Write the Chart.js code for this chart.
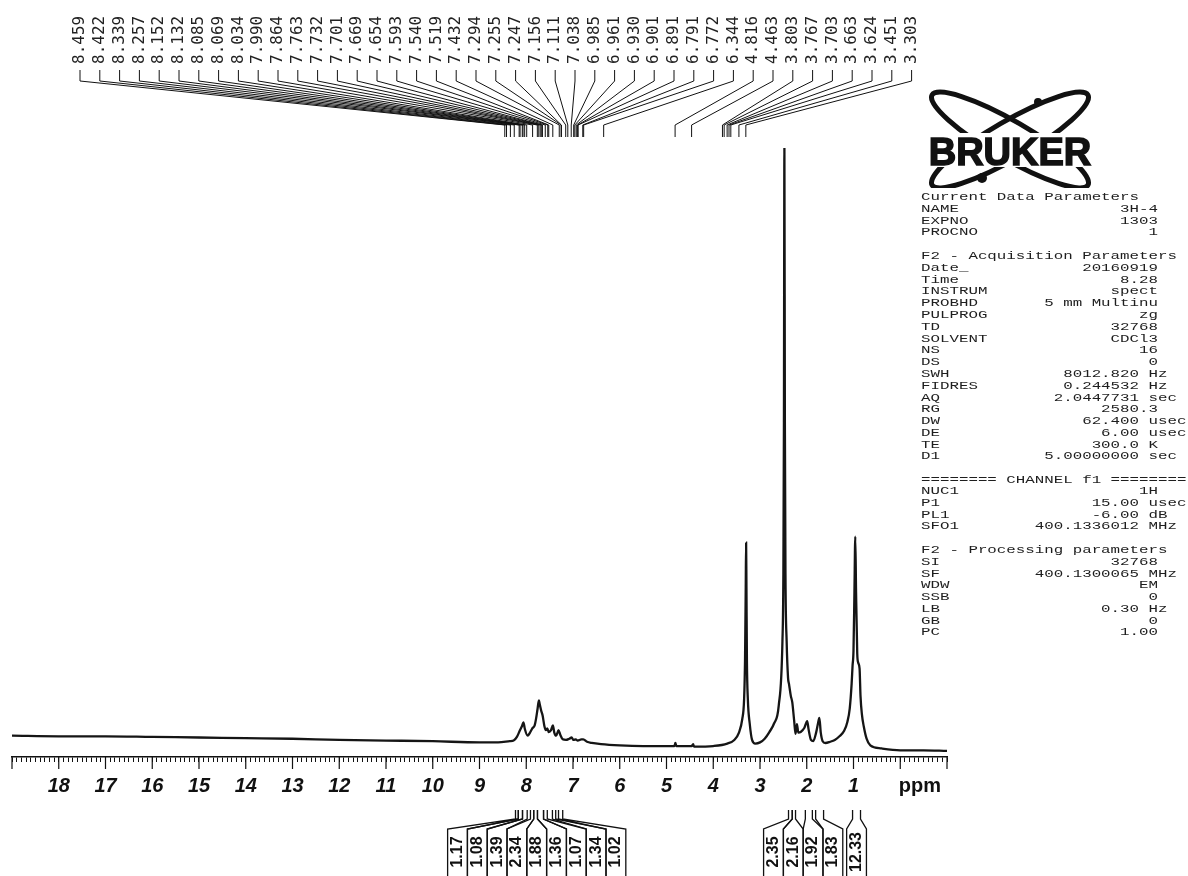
<!DOCTYPE html>
<html>
<head>
<meta charset="utf-8">
<script src="https://cdn.jsdelivr.net/npm/chart.js@4.4.0/dist/chart.umd.min.js"></script>
<style>
  html, body { margin: 0; padding: 0; background: #fff; }
  #wrap { position: relative; width: 1188px; height: 876px; overflow: hidden; }
  #chart { position: absolute; left: 0; top: 0; }
  #params {
    position: absolute; left: 921px; top: 192px; margin: 0;
    font: 15.8px/16.8px "Liberation Mono", "DejaVu Sans Mono", monospace;
    color: #1e1e1e; white-space: pre;
    transform: scaleY(0.7); transform-origin: 0 0;
  }
  #logo { position: absolute; left: 915px; top: 78px; }
</style>
</head>
<body>
<div id="wrap">
  <canvas id="chart" width="1188" height="876"></canvas>
  <svg id="logo" width="190" height="110" viewBox="0 0 190 110">
    <ellipse cx="95" cy="62" rx="90" ry="19" transform="rotate(30 95 62)" fill="none" stroke="#111" stroke-width="5"/>
    <ellipse cx="95" cy="62" rx="90" ry="19" transform="rotate(-30 95 62)" fill="none" stroke="#111" stroke-width="5"/>
    <rect x="6" y="55" width="178" height="34" fill="#fff"/>
    <text x="95" y="87" text-anchor="middle" font-family="Liberation Sans, Arial" font-weight="bold" font-size="38" fill="#111" stroke="#111" stroke-width="1.5">BRUKER</text>
    <circle cx="67" cy="100" r="5" fill="#111"/>
    <circle cx="123" cy="24" r="4" fill="#111"/>
  </svg>
  <pre id="params"></pre>
</div>
<script>
// spectrum trace: chemical shift (ppm) and height (% of tallest peak)
const specPpm = [19.0, 18.0, 17.0, 16.0, 15.0, 14.0, 13.0, 12.0, 11.0, 10.0, 9.0, 8.6,
  8.35, 8.27, 8.20, 8.14, 8.09, 8.06, 8.03, 7.97, 7.92, 7.87, 7.82, 7.79, 7.76, 7.73, 7.71,
  7.68, 7.65, 7.61, 7.58, 7.55, 7.52, 7.47, 7.43, 7.40, 7.36, 7.31, 7.27, 7.22, 7.15, 7.08,
  7.03, 6.99, 6.94, 6.90, 6.82, 6.78, 6.70, 6.60, 6.40, 6.00, 5.50, 5.00, 4.83, 4.81, 4.79,
  4.46, 4.43, 4.41, 4.00, 3.70, 3.55, 3.45, 3.38, 3.34, 3.32, 3.305, 3.297, 3.29, 3.28, 3.26,
  3.22, 3.17, 3.10, 3.00, 2.90, 2.80, 2.70, 2.60, 2.52, 2.50, 2.488, 2.478, 2.468, 2.455,
  2.43, 2.40, 2.38, 2.34, 2.31, 2.27, 2.24, 2.21, 2.18, 2.13, 2.05, 1.99, 1.96, 1.91, 1.86,
  1.80, 1.76, 1.73, 1.70, 1.66, 1.60, 1.50, 1.40, 1.30, 1.20, 1.13, 1.08, 1.04, 1.02, 1.00,
  0.98, 0.962, 0.945, 0.92, 0.90, 0.87, 0.85, 0.82, 0.78, 0.72, 0.64, 0.40, 0.00, -0.50, -1.00];
const specInt = [3.5, 3.4, 3.4, 3.3, 3.2, 3.1, 3.0, 2.8, 2.7, 2.6, 2.4, 2.4,
  2.6, 2.7, 3.3, 4.3, 5.1, 5.7, 4.6, 3.5, 4.0, 4.7, 5.2, 6.3, 7.8, 9.3, 8.6,
  7.6, 6.8, 5.0, 4.4, 4.7, 4.1, 4.4, 5.2, 4.0, 3.5, 4.4, 3.6, 2.9, 2.8, 3.0,
  3.2, 2.8, 2.9, 2.7, 2.9, 2.9, 2.5, 2.3, 2.1, 1.9, 1.8, 1.8, 1.8, 2.3, 1.8,
  1.8, 2.1, 1.7, 1.8, 2.2, 2.8, 4.0, 6.2, 9.5, 16, 28, 35.2, 28, 16, 9.5,
  5.5, 2.8, 2.2, 2.4, 3.0, 4.1, 5.5, 8.4, 19, 30, 55, 100, 55, 30,
  19, 13, 12, 10, 9, 6, 3.8, 5.4, 4.0, 4.1, 4.8, 5.9, 4.5, 2.8, 2.6,
  4.0, 5.5, 6.4, 4.0, 2.6, 2.3, 2.5, 2.8, 3.4, 4.3, 5.8, 8.0, 12.0, 15.0, 17.5,
  27, 36.2, 27, 17, 15.5, 14.5, 10, 7, 5.0, 3.0, 1.9, 1.4, 1.1, 1.1, 1.0];

// picked peaks printed along the top
const peakShifts = ['8.459', '8.422', '8.339', '8.257', '8.152', '8.132', '8.085', '8.069', '8.034',
  '7.990', '7.864', '7.763', '7.732', '7.701', '7.669', '7.654', '7.593', '7.540', '7.519', '7.432',
  '7.294', '7.255', '7.247', '7.156', '7.111', '7.038', '6.985', '6.961', '6.930', '6.901', '6.891',
  '6.791', '6.772', '6.344', '4.816', '4.463', '3.803', '3.767', '3.703', '3.663', '3.624', '3.451', '3.303'];

// integral regions (ppm) and their values
const intFrom = [8.23, 8.17, 8.08, 7.91, 7.84, 7.76, 7.63, 7.44, 7.31, 2.39, 2.31, 2.03, 1.81, 1.02];
const intTo = [8.17, 8.08, 7.98, 7.84, 7.76, 7.63, 7.55, 7.37, 7.22, 2.31, 2.24, 1.88, 1.64, 0.85];
const intValues = ['1.17', '1.08', '1.39', '2.34', '1.88', '1.36', '1.07', '1.34', '1.02',
  '2.35', '2.16', '1.92', '1.83', '12.33'];

// labelled major ticks
const tickLabels = [18, 17, 16, 15, 14, 13, 12, 11, 10, 9, 8, 7, 6, 5, 4, 3, 2, 1];

const params = [
  ['Current Data Parameters'],
  ['NAME', '3H-4'], ['EXPNO', '1303'], ['PROCNO', '1'],
  [''],
  ['F2 - Acquisition Parameters'],
  ['Date_', '20160919'], ['Time', '8.28'], ['INSTRUM', 'spect'], ['PROBHD', '5 mm Multinu'],
  ['PULPROG', 'zg'], ['TD', '32768'], ['SOLVENT', 'CDCl3'], ['NS', '16'], ['DS', '0'],
  ['SWH', '8012.820', 'Hz'], ['FIDRES', '0.244532', 'Hz'], ['AQ', '2.0447731', 'sec'],
  ['RG', '2580.3'], ['DW', '62.400', 'usec'], ['DE', '6.00', 'usec'], ['TE', '300.0', 'K'],
  ['D1', '5.00000000', 'sec'],
  [''],
  ['======== CHANNEL f1 ========'],
  ['NUC1', '1H'], ['P1', '15.00', 'usec'], ['PL1', '-6.00', 'dB'], ['SFO1', '400.1336012', 'MHz'],
  [''],
  ['F2 - Processing parameters'],
  ['SI', '32768'], ['SF', '400.1300065', 'MHz'], ['WDW', 'EM'], ['SSB', '0'],
  ['LB', '0.30', 'Hz'], ['GB', '0'], ['PC', '1.00']
];

document.getElementById('params').textContent = params.map(r => {
  if (r.length === 1) return r[0];
  if (r.length === 2) return r[0] + r[1].padStart(25 - r[0].length);
  return r[0] + r[1].padStart(23 - r[0].length) + ' ' + r[2];
}).join('\n');

const extras = {
  id: 'extras',
  afterDraw(chart) {
    const ctx = chart.ctx;
    const xs = chart.scales.x;
    ctx.save();
    ctx.strokeStyle = '#111';
    ctx.fillStyle = '#111';

    // long ticks at whole ppm
    ctx.lineWidth = 1.2;
    ctx.beginPath();
    for (let v = -1; v <= 19; v++) {
      const px = xs.getPixelForValue(v);
      ctx.moveTo(px, xs.top);
      ctx.lineTo(px, xs.top + 12);
    }
    ctx.stroke();

    ctx.font = 'bold 20px "Liberation Sans", Arial, sans-serif';
    ctx.textAlign = 'center';
    ctx.textBaseline = 'middle';
    ctx.fillText('ppm', xs.getPixelForValue(-0.42), xs.top + 29);

    // peak labels with leader lines
    ctx.lineWidth = 1;
    ctx.fillStyle = '#222';
    ctx.font = '16px "DejaVu Sans Mono", "Liberation Mono", monospace';
    peakShifts.forEach((s, i) => {
      const lx = 80 + i * 19.8;
      const px = xs.getPixelForValue(parseFloat(s));
      ctx.beginPath();
      ctx.moveTo(lx, 70);
      ctx.lineTo(lx, 81);
      ctx.lineTo(px, 125);
      ctx.lineTo(px, 137);
      ctx.stroke();
      ctx.save();
      ctx.translate(lx, 64);
      ctx.rotate(-Math.PI / 2);
      ctx.textAlign = 'left';
      ctx.textBaseline = 'middle';
      ctx.fillText(s, 0, 0);
      ctx.restore();
    });

    // integrals under the axis
    const W = 19.8;
    const items = intValues.map((v, i) => {
      const a = xs.getPixelForValue(intFrom[i]);
      const b = xs.getPixelForValue(intTo[i]);
      return { v, a, b, cx: (a + b) / 2 };
    }).sort((p, q) => p.cx - q.cx);
    const center = g => g.reduce((s, it) => s + it.cx, 0) / g.length;
    const groups = items.map(it => [it]);
    let merged = true;
    while (merged) {
      merged = false;
      for (let i = 0; i < groups.length - 1; i++) {
        const g1 = groups[i], g2 = groups[i + 1];
        if (center(g1) + g1.length * W / 2 > center(g2) - g2.length * W / 2) {
          groups.splice(i, 2, g1.concat(g2));
          merged = true;
          break;
        }
      }
    }
    ctx.lineWidth = 1.3;
    ctx.strokeStyle = '#111';
    ctx.fillStyle = '#111';
    ctx.font = 'bold 16px "Liberation Sans", Arial, sans-serif';
    groups.forEach(g => {
      const left = center(g) - g.length * W / 2;
      g.forEach((it, k) => {
        const bl = left + k * W, br = bl + W;
        ctx.beginPath();
        ctx.moveTo(it.a, 810); ctx.lineTo(it.a, 819); ctx.lineTo(bl, 829); ctx.lineTo(bl, 876);
        ctx.moveTo(it.b, 810); ctx.lineTo(it.b, 819); ctx.lineTo(br, 829); ctx.lineTo(br, 876);
        ctx.stroke();
        ctx.save();
        ctx.translate((bl + br) / 2, 852);
        ctx.rotate(-Math.PI / 2);
        ctx.textAlign = 'center';
        ctx.textBaseline = 'middle';
        ctx.fillText(it.v, 0, 0);
        ctx.restore();
      });
    });
    ctx.restore();
  }
};

new Chart(document.getElementById('chart'), {
  type: 'line',
  data: {
    datasets: [{
      data: specPpm.map((p, i) => ({ x: p, y: specInt[i] })),
      borderColor: '#151515',
      borderWidth: 2.3,
      pointRadius: 0,
      cubicInterpolationMode: 'monotone',
      fill: false
    }]
  },
  options: {
    responsive: false,
    animation: false,
    layout: { padding: { left: 12, right: 241, top: 148, bottom: 66 } },
    plugins: { legend: { display: false }, tooltip: { enabled: false } },
    scales: {
      x: {
        type: 'linear',
        reverse: true,
        min: -1,
        max: 19,
        grid: { drawOnChartArea: false, drawTicks: true, tickLength: 5, color: '#111', lineWidth: 1 },
        border: { display: true, color: '#111', width: 1.5 },
        ticks: {
          stepSize: 0.1,
          autoSkip: false,
          maxRotation: 0,
          padding: 12,
          color: '#111',
          font: { family: '"Liberation Sans", Arial, sans-serif', size: 20, weight: 'bold', style: 'italic' },
          callback: v => {
            const r = Math.round(v);
            return (Math.abs(v - r) < 1e-6 && tickLabels.includes(r)) ? String(r) : '';
          }
        }
      },
      y: { display: false, min: 0, max: 100 }
    }
  },
  plugins: [extras]
});
</script>
</body>
</html>
